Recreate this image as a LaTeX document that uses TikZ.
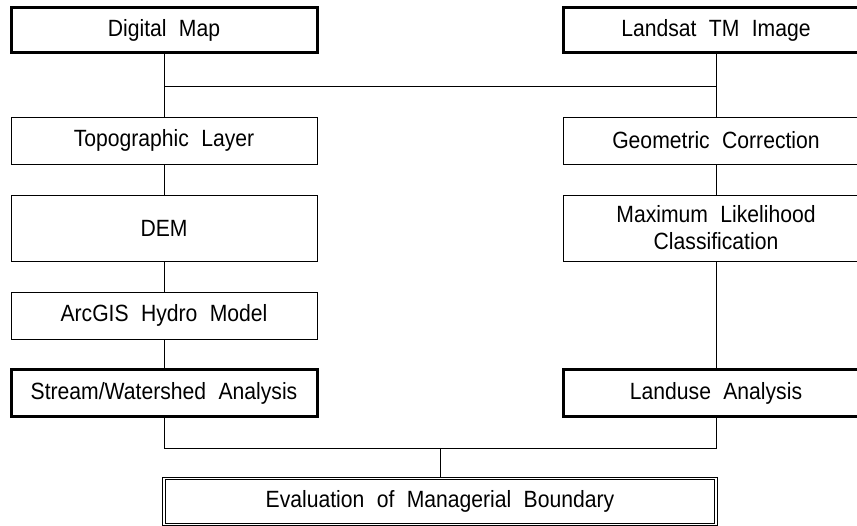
\documentclass[tikz,border=0pt]{standalone}
\usepackage{fontspec}
\setmainfont{Liberation Sans}[WordSpace=2.1, FakeStretch=0.9]

\begin{document}
\begin{tikzpicture}[x=1pt, y=-1pt,
  box/.style={draw, line width=0.8pt, minimum width=306pt, minimum height=47pt,
    inner sep=0pt, align=center, font=\fontsize{23.5}{27}\selectfont},
  mainbox/.style={box, line width=3pt, minimum height=45pt},
  resultbox/.style={box, line width=0.8pt, double, double distance=1.5pt,
    minimum width=552pt, minimum height=46pt},
  link/.style={line width=0.8pt}]
  \useasboundingbox (0,0) rectangle (857,526);
  \clip (0,0) rectangle (857,526);

  % source data
  \node[mainbox] (map) at (164,30.5) {Digital Map};
  \node[mainbox] (landsat) at (716,30.5) {Landsat TM Image};

  % terrain side
  \node[box] (topo) at (164,140.5) {Topographic Layer};
  \node[box, minimum height=66pt] (dem) at (164,228) {DEM};
  \node[box] (hydro) at (164,315.5) {ArcGIS Hydro Model};
  \node[mainbox, minimum height=47pt] (stream) at (164,393.5) {Stream/Watershed Analysis};

  % image side
  \node[box] (geom) at (716,140.5) {Geometric Correction};
  \node[box, minimum height=66pt] (mlc) at (716,228) {Maximum Likelihood\\Classification};
  \node[mainbox, minimum height=47pt] (landuse) at (716,393.5) {Landuse Analysis};

  % result
  \node[resultbox] (eval) at (440,501.5) {Evaluation of Managerial Boundary};

  \coordinate (jtop) at (440,86);
  \coordinate (jbot) at (440,448);

  \draw[link] (map) -- (topo);
  \draw[link] (landsat) -- (geom);
  \draw[link] (map |- jtop) -- (landsat |- jtop);
  \draw[link] (topo) -- (dem);
  \draw[link] (dem) -- (hydro);
  \draw[link] (hydro) -- (stream);
  \draw[link] (geom) -- (mlc);
  \draw[link] (mlc) -- (landuse);
  \draw[link] (stream) -- (stream |- jbot) -- (landuse |- jbot) -- (landuse);
  \draw[link] (jbot) -- (eval);
\end{tikzpicture}
\end{document}
